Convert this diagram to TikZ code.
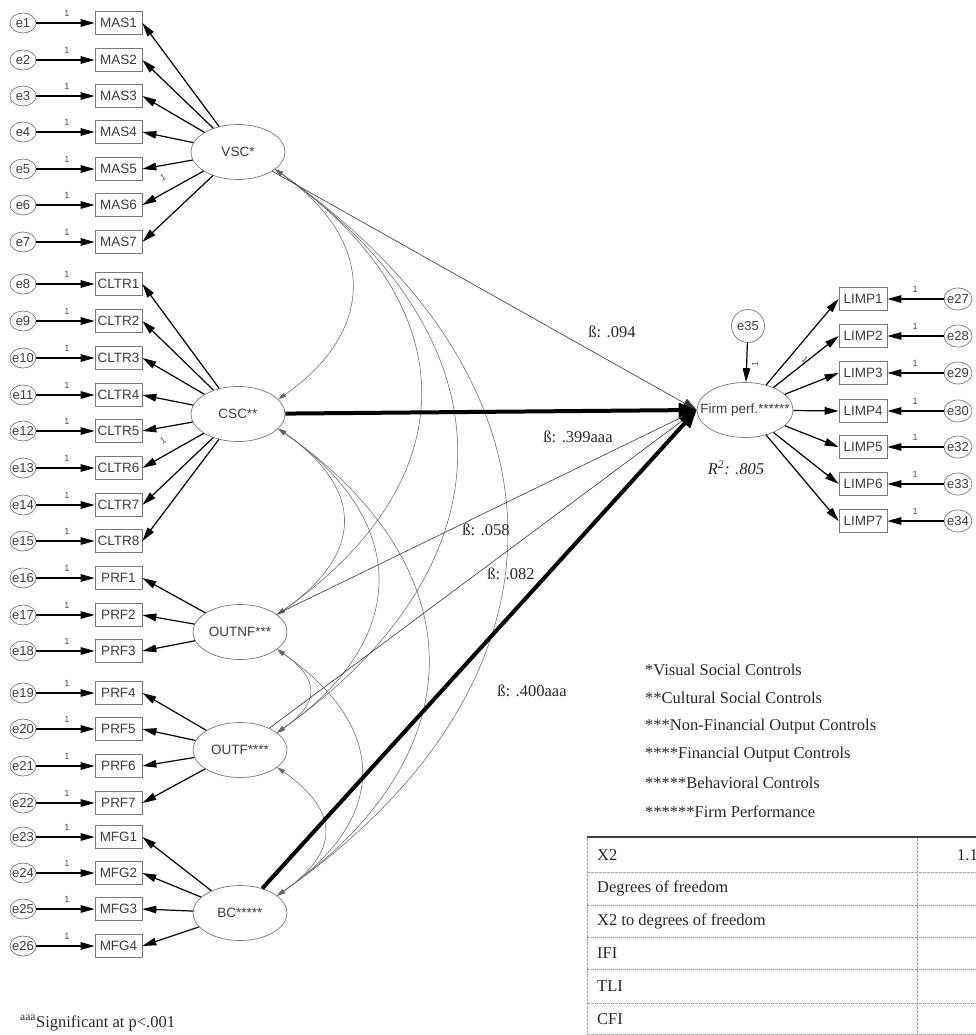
\documentclass[tikz,border=0pt]{standalone}
\usepackage{fontspec}
\setmainfont{Liberation Serif}
\newfontfamily\amos{Liberation Sans}
\usetikzlibrary{arrows.meta,shapes.geometric}
\definecolor{tabline}{RGB}{150,165,180}
\definecolor{nodeline}{RGB}{120,120,120}
\definecolor{nodetext}{RGB}{60,60,60}
\begin{document}
\begin{tikzpicture}[x=1pt,y=-1pt,
  every node/.style={inner sep=0pt},
  err/.style={ellipse, draw=nodeline, line width=0.7pt, minimum width=26pt, minimum height=20pt,
    font=\amos\fontsize{13}{13}\selectfont, text=nodetext},
  obs/.style={rectangle, draw=nodeline, line width=0.7pt, minimum width=47pt, minimum height=23pt,
    font=\amos\fontsize{13.5}{13.5}\selectfont, text=nodetext},
  lat/.style={ellipse, draw=nodeline, line width=0.7pt, minimum width=94pt, minimum height=55pt,
    font=\amos\fontsize{13.5}{13.5}\selectfont, text=nodetext},
  arr/.style={line width=1.2pt, -{Triangle[length=14pt,width=7.5pt]}},
  one/.style={font=\amos\fontsize{9}{9}\selectfont, text=black!70},
  cov/.style={draw=black!60, line width=0.55pt,
    {Triangle[length=8pt,width=4.5pt]}-{Triangle[length=8pt,width=4.5pt]}},
  reg/.style={draw=black!80, line width=0.6pt, -{Triangle[length=14pt,width=10pt]}},
  regthick/.style={line width=4pt, -{Triangle[length=18pt,width=14pt]}},
  beta/.style={font=\fontsize{16.5}{16.5}\selectfont, text=black!85},
  legend/.style={font=\fontsize{16.5}{16.5}\selectfont, anchor=west, text=black!85},
  tabtext/.style={font=\fontsize{16.5}{16.5}\selectfont, anchor=west, text=black!85},
  tabd/.style={draw=tabline, line width=0.6pt, dash pattern=on 2.5pt off 1.5pt},
]
\useasboundingbox (0,0) rectangle (976,1035);

% latent variables
\node[lat] (VSC) at (238,152) {\makebox[0pt]{VSC*}};
\node[lat] (CSC) at (238,414) {\makebox[0pt]{CSC**}};
\node[lat] (OUTNF) at (240,632) {\makebox[0pt]{OUTNF***}};
\node[lat] (OUTF) at (240,750) {\makebox[0pt]{OUTF****}};
\node[lat] (BC) at (240,913) {\makebox[0pt]{BC*****}};
\node[lat, minimum width=96pt] (Firm) at (745,410) {\makebox[0pt]{Firm perf.******}};

% left indicators
\foreach \i/\y/\lab in {1/23/MAS1, 2/60/MAS2, 3/96/MAS3, 4/132/MAS4, 5/169/MAS5, 6/205/MAS6, 7/242/MAS7,
  8/284/CLTR1, 9/321/CLTR2, 10/358/CLTR3, 11/395/CLTR4, 12/431/CLTR5, 13/468/CLTR6, 14/505/CLTR7, 15/541/CLTR8,
  16/578/PRF1, 17/615/PRF2, 18/651/PRF3, 19/693/PRF4, 20/729/PRF5, 21/766/PRF6, 22/803/PRF7,
  23/837/MFG1, 24/873/MFG2, 25/909/MFG3, 26/946/MFG4}{
  \node[err] (e\i) at (23,\y) {\makebox[0pt]{e\i}};
  \node[obs] (o\i) at (118.5,\y) {\lab};
  \draw[arr] (e\i) -- (o\i);
  \node[one] (one\i) at (67,\y-10) {1};
}

\foreach \i in {1,...,7} {\draw[arr] (VSC) -- (o\i.east);}
\foreach \i in {8,...,15} {\draw[arr] (CSC) -- (o\i.east);}
\foreach \i in {16,...,18} {\draw[arr] (OUTNF) -- (o\i.east);}
\foreach \i in {19,...,22} {\draw[arr] (OUTF) -- (o\i.east);}
\foreach \i in {23,...,26} {\draw[arr] (BC) -- (o\i.east);}
\node[one, rotate=30] (oneV) at (163,178) {1};
\node[one, rotate=30] (oneC) at (163,441) {1};

% right indicators
\foreach \i/\y/\e in {1/299/27, 2/336/28, 3/373/29, 4/411/30, 5/447/32, 6/484/33, 7/521/34}{
  \node[obs, minimum width=48pt] (L\i) at (863,\y) {LIMP\i};
  \node[err, minimum width=28pt, minimum height=22pt] (r\i) at (958,\y) {\makebox[0pt]{e\e}};
  \draw[arr] (r\i) -- (L\i);
  \node[one] (oneR\i) at (915,\y-10) {1};
  \draw[arr] (Firm) -- (L\i.west);
}
\node[one, rotate=-40] (oneL) at (805,360) {1};

% disturbance
\node[circle, draw=nodeline, line width=0.7pt, minimum size=33pt, font=\amos\fontsize{13}{13}\selectfont, text=nodetext] (e35) at (748,326) {e35};
\draw[arr] (e35) -- (Firm);
\node[one, rotate=90] (oneD) at (755,364) {1};

% covariances
\draw[cov] (VSC.-25) .. controls +(100,70) and +(100,-70) .. (CSC.20);
\draw[cov] (VSC.-25) .. controls +(192,135) and +(192,-135) .. (OUTNF.25);
\draw[cov] (VSC.-25) .. controls +(240,170) and +(240,-170) .. (OUTF.25);
\draw[cov] (VSC.-25) .. controls +(307,215) and +(307,-215) .. (BC.25);
\draw[cov] (CSC.-20) .. controls +(87,61) and +(87,-61) .. (OUTNF.25);
\draw[cov] (CSC.-20) .. controls +(133,93) and +(133,-93) .. (OUTF.25);
\draw[cov] (CSC.-20) .. controls +(200,140) and +(200,-140) .. (BC.25);
\draw[cov] (OUTNF.-25) .. controls +(43,30) and +(43,-30) .. (OUTF.25);
\draw[cov] (OUTNF.-25) .. controls +(112,78) and +(112,-78) .. (BC.25);
\draw[cov] (OUTF.-25) .. controls +(63,44) and +(63,-44) .. (BC.25);

% structural paths
\draw[reg] (VSC) -- (Firm.west);
\draw[reg] (OUTNF) -- (Firm.west);
\draw[reg] (OUTF) -- (Firm.west);
\draw[regthick] (CSC) -- (Firm.west);
\draw[regthick] (BC) -- (Firm.west);

\node[beta] (b1) at (612,332) {ß: .094};
\node[beta] (b2) at (578,437) {ß: .399aaa};
\node[beta] (b3) at (486,530) {ß: .058};
\node[beta] (b4) at (511,574) {ß: .082};
\node[beta] (b5) at (532,691) {ß: .400aaa};
\node[font=\fontsize{16.5}{16.5}\selectfont\itshape, text=black!85] (r2) at (736,468) {R\textsuperscript{2}: .805};

% legend
\node[legend] (leg1) at (645,670) {*Visual Social Controls};
\node[legend] (leg2) at (645,698) {**Cultural Social Controls};
\node[legend] (leg3) at (645,727) {***Non-Financial Output Controls};
\node[legend] (leg4) at (645,755) {****Financial Output Controls};
\node[legend] (leg5) at (645,783) {*****Behavioral Controls};
\node[legend] (leg6) at (645,812) {******Firm Performance};

% fit table
\draw[line width=1.2pt, black!75] (587,837) -- (976,837);
\foreach \yy in {872,905,937,969,1003,1034}{\draw[tabd] (587,\yy) -- (976,\yy);}
\draw[tabd] (587,838) -- (587,1035);
\draw[tabd] (917,838) -- (917,1035);
\node[tabtext] (t1) at (597,855) {X2};
\node[tabtext] (t2) at (597,888) {Degrees of freedom};
\node[tabtext] (t3) at (597,921) {X2 to degrees of freedom};
\node[tabtext] (t4) at (597,953) {IFI};
\node[tabtext] (t5) at (597,986) {TLI};
\node[tabtext] (t6) at (597,1019) {CFI};
\node[tabtext] (v1) at (957,855) {1.1};

% note
\node[anchor=west, font=\fontsize{16.5}{16.5}\selectfont, text=black!85] (note) at (20,1023) {\textsuperscript{aaa}Significant at p<.001};
\end{tikzpicture}
\end{document}
